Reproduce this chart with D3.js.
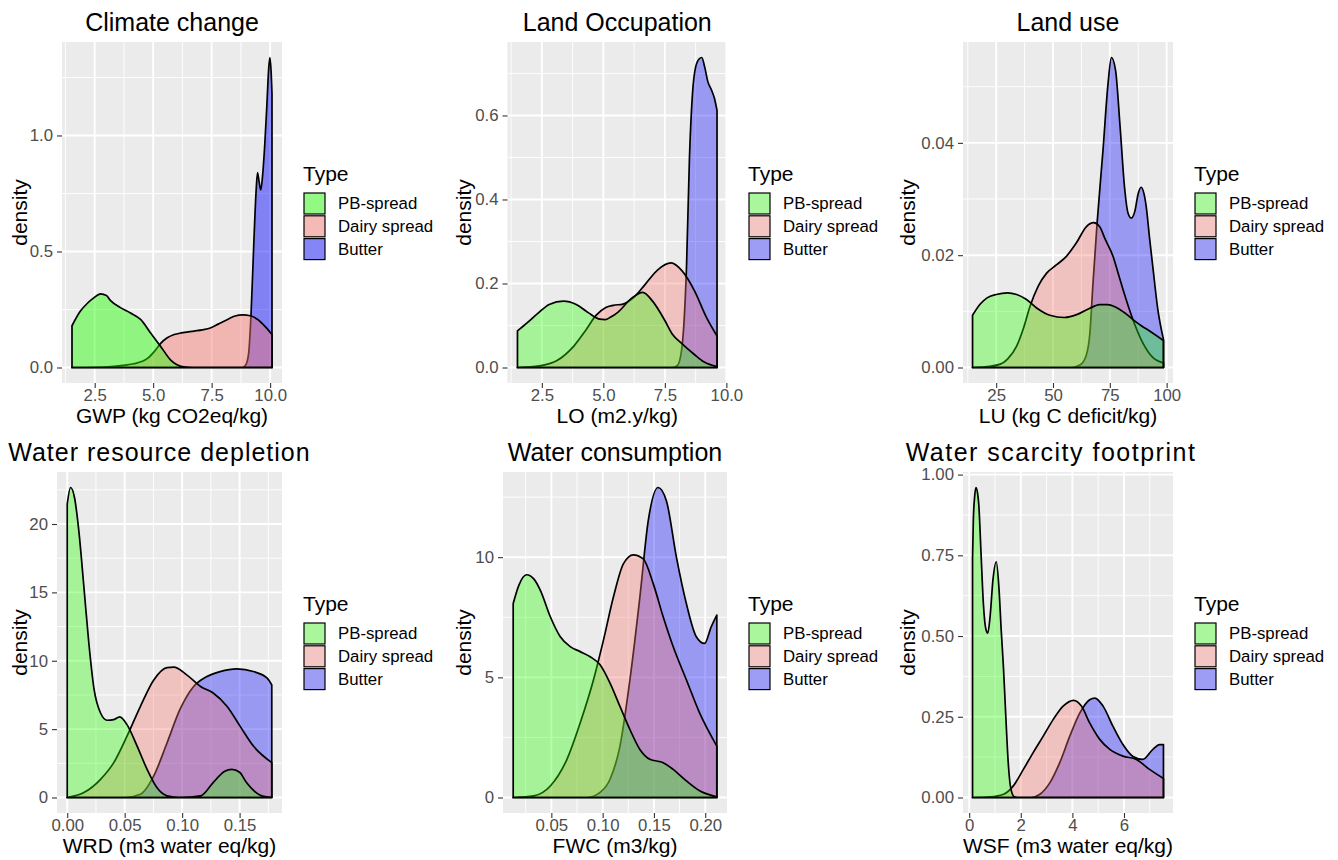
<!DOCTYPE html>
<html>
<head>
<meta charset="utf-8">
<script src="https://d3js.org/d3.v7.min.js"></script>
<style>
  body { margin: 0; background: #fff; }
  text { font-family: "Liberation Sans", Arial, Helvetica, sans-serif; }
</style>
</head>
<body>
<div id="chart"></div>
<script>
// legend order; areas are painted in reverse (Butter first, PB-spread on top)
const types = ['PB-spread', 'Dairy spread', 'Butter'];
const typeFills = ['#22FF00', '#F8766D', '#0000FF'];

// density curves, [x, density]
const gwpPB = [[1.53,0.18],[1.89,0.243],[2.2,0.278],[2.46,0.3],[2.75,0.317],[3.0,0.31],[3.18,0.288],[3.6,0.258],[4.03,0.235],[4.46,0.207],[4.89,0.149],[5.32,0.091],[5.75,0.032],[6.0,0.013],[6.3,0.003],[6.7,0],[10.08,0]];
const gwpDairy = [[1.53,0],[2.5,0.001],[3.2,0.004],[3.8,0.01],[4.17,0.016],[4.74,0.038],[5.1,0.075],[5.32,0.104],[5.6,0.128],[5.9,0.142],[6.2,0.149],[6.75,0.157],[7.1,0.162],[7.47,0.171],[7.8,0.188],[8.18,0.207],[8.5,0.222],[8.83,0.227],[9.15,0.223],[9.47,0.207],[9.8,0.175],[10.08,0.142]];
const gwpButter = [[1.53,0],[8.8,0],[8.95,0.01],[9.08,0.06],[9.18,0.22],[9.3,0.53],[9.4,0.76],[9.46,0.84],[9.53,0.8],[9.6,0.765],[9.68,0.83],[9.77,0.96],[9.86,1.13],[9.94,1.29],[9.99,1.336],[10.04,1.28],[10.08,1.18]];

const loPB = [[1.51,0.087],[1.9,0.106],[2.36,0.13],[2.8,0.15],[3.38,0.158],[3.9,0.15],[4.4,0.13],[4.86,0.115],[5.07,0.114],[5.3,0.12],[5.6,0.132],[6.15,0.165],[6.6,0.179],[7.0,0.158],[7.5,0.112],[7.8,0.08],[8.17,0.058],[8.7,0.031],[9.1,0.013],[9.62,0.002]];
const loDairy = [[1.51,0],[2.4,0.004],[3.1,0.016],[3.8,0.051],[4.3,0.09],[4.7,0.124],[5.1,0.143],[5.4,0.148],[5.8,0.151],[6.2,0.165],[6.7,0.198],[7.2,0.232],[7.75,0.249],[8.2,0.23],[8.7,0.183],[9.2,0.118],[9.62,0.075]];
const loButter = [[1.51,0],[7.8,0],[8.0,0.004],[8.15,0.03],[8.27,0.1],[8.38,0.24],[8.5,0.5],[8.62,0.65],[8.75,0.715],[8.9,0.735],[9.0,0.738],[9.12,0.715],[9.25,0.68],[9.4,0.66],[9.52,0.64],[9.62,0.612]];

const luPB = [[14.6,0.0093],[18,0.0113],[21,0.0124],[25,0.013],[30,0.0133],[34,0.013],[38,0.0122],[42.8,0.0106],[48.6,0.0093],[55,0.0089],[61,0.0095],[66,0.0105],[70.5,0.0112],[74,0.0112],[77.9,0.0107],[82,0.0096],[85.9,0.0083],[89,0.0074],[92.5,0.0065],[98.6,0.0048]];
const luDairy = [[14.6,0],[20,0.0001],[26.8,0.0006],[30,0.0015],[34,0.0038],[37,0.007],[39.9,0.0109],[43.5,0.0145],[47.2,0.0168],[51.6,0.0183],[55.9,0.0198],[60.3,0.0222],[64.7,0.0251],[67.9,0.0258],[70.5,0.0251],[73,0.0228],[76.4,0.0198],[78.5,0.017],[80.8,0.0139],[85.1,0.0086],[89.5,0.0044],[93.9,0.0018],[98.6,0.0008]];
const luButter = [[14.6,0],[58,0],[62,0.0005],[64.5,0.002],[66.2,0.006],[67.6,0.015],[69.4,0.0257],[72,0.0387],[74.2,0.0505],[75.7,0.0552],[77.5,0.053],[79.5,0.043],[81.5,0.032],[83,0.0275],[84.4,0.0266],[86,0.0278],[87.5,0.031],[88.8,0.0321],[90,0.031],[91,0.0287],[92.5,0.023],[93.9,0.018],[96.1,0.0104],[98.6,0.005]];

const wrdPB = [[0,21.45],[0.0029,22.67],[0.0064,21.9],[0.0101,19.5],[0.0145,15.4],[0.0188,11.3],[0.0232,8.0],[0.029,6.18],[0.0347,5.65],[0.0405,5.7],[0.0457,5.9],[0.052,5.33],[0.0608,3.76],[0.0695,2.06],[0.078,0.73],[0.0869,0.12],[0.098,0],[0.116,0.12],[0.127,1.09],[0.1367,1.9],[0.1433,2.06],[0.15,1.85],[0.156,1.09],[0.168,0.17],[0.178,0]];
const wrdDairy = [[0,0],[0.0145,0.36],[0.029,1.33],[0.0405,2.55],[0.052,4.48],[0.0637,6.67],[0.0753,8.6],[0.0869,9.5],[0.0926,9.53],[0.104,8.97],[0.116,8.12],[0.127,7.64],[0.139,6.67],[0.1505,5.2],[0.162,3.76],[0.178,2.55]];
const wrdButter = [[0,0],[0.05,0],[0.0637,0.24],[0.0753,1.58],[0.0869,4.0],[0.098,6.42],[0.11,8.12],[0.1216,8.85],[0.133,9.21],[0.1477,9.41],[0.162,9.21],[0.174,8.73],[0.178,8.24]];

const fwcPB = [[0.0128,8.07],[0.0183,8.83],[0.0258,9.27],[0.0329,9.1],[0.0393,8.62],[0.049,7.52],[0.0587,6.69],[0.0684,6.28],[0.0781,6.07],[0.0878,5.86],[0.0975,5.52],[0.1072,4.76],[0.1169,3.79],[0.1266,2.83],[0.1363,2.0],[0.146,1.59],[0.159,1.45],[0.1687,1.17],[0.1816,0.69],[0.1945,0.28],[0.2113,0.03]];
const fwcDairy = [[0.0128,0],[0.0329,0.07],[0.049,0.48],[0.0652,1.59],[0.0781,3.1],[0.0911,4.9],[0.1008,6.55],[0.1105,8.34],[0.1202,9.72],[0.1299,10.1],[0.1396,9.93],[0.1493,8.9],[0.159,7.52],[0.1687,6.28],[0.1816,4.9],[0.1945,3.52],[0.2113,2.14]];
const fwcButter = [[0.0128,0],[0.085,0],[0.0975,0.21],[0.1072,0.76],[0.1169,2.14],[0.1266,4.9],[0.1363,8.34],[0.1444,11.5],[0.1541,12.9],[0.1622,12.34],[0.1719,10.0],[0.1816,8.07],[0.1913,6.69],[0.1994,6.41],[0.2058,7.1],[0.2113,7.59]];

const wsfPB = [[0.13,0.74],[0.16,0.857],[0.21,0.93],[0.26,0.96],[0.32,0.945],[0.37,0.909],[0.46,0.755],[0.55,0.6],[0.65,0.52],[0.72,0.509],[0.81,0.56],[0.92,0.673],[1.05,0.73],[1.15,0.653],[1.24,0.52],[1.33,0.4],[1.42,0.25],[1.52,0.1],[1.62,0.025],[1.75,0.002],[1.9,0],[7.53,0]];
const wsfDairy = [[0.13,0],[0.81,0.002],[1.33,0.01],[1.71,0.036],[2.1,0.087],[2.48,0.139],[2.87,0.19],[3.26,0.242],[3.64,0.283],[4.05,0.301],[4.35,0.283],[4.67,0.231],[5.06,0.18],[5.45,0.149],[5.96,0.128],[6.48,0.118],[6.99,0.087],[7.53,0.059]];
const wsfButter = [[0.13,0],[2.4,0],[2.74,0.01],[3.13,0.046],[3.51,0.108],[3.9,0.19],[4.29,0.262],[4.67,0.303],[4.87,0.308],[5.19,0.283],[5.57,0.221],[5.96,0.164],[6.35,0.127],[6.73,0.118],[7.12,0.149],[7.38,0.164],[7.53,0.164]];

const titles = ['Climate change', 'Land Occupation', 'Land use', 'Water resource depletion', 'Water consumption', 'Water scarcity footprint'];
const xLabels = ['GWP (kg CO2eq/kg)', 'LO (m2.y/kg)', 'LU (kg C deficit/kg)', 'WRD (m3 water eq/kg)', 'FWC (m3/kg)', 'WSF (m3 water eq/kg)'];
const xTicks = [[2.5, 5, 7.5, 10], [2.5, 5, 7.5, 10], [25, 50, 75, 100], [0, 0.05, 0.1, 0.15], [0.05, 0.1, 0.15, 0.2], [0, 2, 4, 6]];
const xTickLabels = [['2.5', '5.0', '7.5', '10.0'], ['2.5', '5.0', '7.5', '10.0'], ['25', '50', '75', '100'], ['0.00', '0.05', '0.10', '0.15'], ['0.05', '0.10', '0.15', '0.20'], ['0', '2', '4', '6']];
const yTicks = [[0, 0.5, 1], [0, 0.2, 0.4, 0.6], [0, 0.02, 0.04], [0, 5, 10, 15, 20], [0, 5, 10], [0, 0.25, 0.5, 0.75, 1]];
const yTickLabels = [['0.0', '0.5', '1.0'], ['0.0', '0.2', '0.4', '0.6'], ['0.00', '0.02', '0.04'], ['0', '5', '10', '15', '20'], ['0', '5', '10'], ['0.00', '0.25', '0.50', '0.75', '1.00']];
const seriesByPanel = [
	[gwpPB, gwpDairy, gwpButter],
	[loPB, loDairy, loButter],
	[luPB, luDairy, luButter],
	[wrdPB, wrdDairy, wrdButter],
	[fwcPB, fwcDairy, fwcButter],
	[wsfPB, wsfDairy, wsfButter],
];

// panel boxes in page pixels
const layout = [
	{ col: 0, left: 62, right: 282, top: 42, bottom: 383, alpha: 0.45, titleDx: 0, titleSpacing: 0 },
	{ col: 444, left: 507.5, right: 727, top: 42, bottom: 383, alpha: 0.35, titleDx: 0, titleSpacing: 0 },
	{ col: 888, left: 963, right: 1173, top: 42, bottom: 383, alpha: 0.35, titleDx: 0, titleSpacing: 0 },
	{ col: 0, left: 57, right: 282, top: 472, bottom: 813, alpha: 0.35, titleDx: -10, titleSpacing: 1 },
	{ col: 444, left: 503, right: 727, top: 472, bottom: 813, alpha: 0.35, titleDx: 0, titleSpacing: 0 },
	{ col: 888, left: 963, right: 1173, top: 472, bottom: 813, alpha: 0.35, titleDx: -17, titleSpacing: 1.5 },
];

const width = 1338;
const height = 860;

const svg = d3.select('#chart').append('svg')
	.attr('width', width)
	.attr('height', height);

svg.append('rect')
	.attr('width', width)
	.attr('height', height)
	.attr('fill', '#fff');

function minorBreaks(ticks, domain) {
	const step = ticks[1] - ticks[0];
	const out = [ticks[0] - step / 2, ...ticks.map((t) => t + step / 2)];
	return out.filter((v) => v > domain[0] && v < domain[1]);
}

function drawPanel(i) {
	const L = layout[i];
	const series = seriesByPanel[i];
	const all = series.flat();
	const [xMin, xMax] = d3.extent(all, (d) => d[0]);
	const yMax = d3.max(all, (d) => d[1]);
	const xPad = (xMax - xMin) * 0.05;
	const yPad = yMax * 0.05;

	const xScale = d3.scaleLinear()
		.domain([xMin - xPad, xMax + xPad])
		.range([L.left, L.right]);
	const yScale = d3.scaleLinear()
		.domain([-yPad, yMax + yPad])
		.range([L.bottom, L.top]);

	const g = svg.append('g');

	g.append('rect')
		.attr('x', L.left)
		.attr('y', L.top)
		.attr('width', L.right - L.left)
		.attr('height', L.bottom - L.top)
		.attr('fill', '#EBEBEB');

	// minor grid
	g.selectAll('.xminor')
		.data(minorBreaks(xTicks[i], xScale.domain()))
		.enter().append('line')
		.attr('x1', (d) => xScale(d)).attr('x2', (d) => xScale(d))
		.attr('y1', L.top).attr('y2', L.bottom)
		.attr('stroke', '#fff').attr('stroke-width', 0.9);
	g.selectAll('.yminor')
		.data(minorBreaks(yTicks[i], yScale.domain()))
		.enter().append('line')
		.attr('y1', (d) => yScale(d)).attr('y2', (d) => yScale(d))
		.attr('x1', L.left).attr('x2', L.right)
		.attr('stroke', '#fff').attr('stroke-width', 0.9);

	// major grid
	g.selectAll('.xmajor')
		.data(xTicks[i])
		.enter().append('line')
		.attr('x1', (d) => xScale(d)).attr('x2', (d) => xScale(d))
		.attr('y1', L.top).attr('y2', L.bottom)
		.attr('stroke', '#fff').attr('stroke-width', 1.9);
	g.selectAll('.ymajor')
		.data(yTicks[i])
		.enter().append('line')
		.attr('y1', (d) => yScale(d)).attr('y2', (d) => yScale(d))
		.attr('x1', L.left).attr('x2', L.right)
		.attr('stroke', '#fff').attr('stroke-width', 1.9);

	const area = d3.area()
		.x((d) => xScale(d[0]))
		.y0(yScale(0))
		.y1((d) => yScale(d[1]))
		.curve(d3.curveMonotoneX);

	// Butter, Dairy spread, PB-spread
	[2, 1, 0].forEach((k) => {
		g.append('path')
			.datum(series[k])
			.attr('d', area)
			.attr('fill', typeFills[k])
			.attr('fill-opacity', L.alpha)
			.attr('stroke', '#000')
			.attr('stroke-width', 1.7)
			.attr('stroke-linejoin', 'round');
	});

	const xAxis = g.append('g')
		.attr('transform', `translate(0,${L.bottom})`)
		.call(d3.axisBottom(xScale)
			.tickValues(xTicks[i])
			.tickFormat((d, j) => xTickLabels[i][j])
			.tickSize(5)
			.tickPadding(1));
	const yAxis = g.append('g')
		.attr('transform', `translate(${L.left},0)`)
		.call(d3.axisLeft(yScale)
			.tickValues(yTicks[i])
			.tickFormat((d, j) => yTickLabels[i][j])
			.tickSize(5)
			.tickPadding(4));
	[xAxis, yAxis].forEach((ax) => {
		ax.select('.domain').remove();
		ax.selectAll('.tick line').attr('stroke', '#333').attr('stroke-width', 1.1);
		ax.selectAll('.tick text')
			.attr('fill', '#4D4D4D')
			.style('font-size', '16.8px')
			.style('font-family', '"Liberation Sans", Arial, sans-serif');
	});

	const cx = (L.left + L.right) / 2;
	const cy = (L.top + L.bottom) / 2;

	g.append('text')
		.attr('x', cx + L.titleDx)
		.attr('y', L.top - 11)
		.attr('text-anchor', 'middle')
		.style('font-size', '25px')
		.style('letter-spacing', `${L.titleSpacing}px`)
		.text(titles[i]);

	g.append('text')
		.attr('x', cx)
		.attr('y', L.bottom + 40)
		.attr('text-anchor', 'middle')
		.style('font-size', '21px')
		.text(xLabels[i]);

	g.append('text')
		.attr('transform', `translate(${L.col + 20},${cy}) rotate(-90)`)
		.attr('dy', '0.35em')
		.attr('text-anchor', 'middle')
		.style('font-size', '21px')
		.text('density');

	// legend
	const lx = L.right + 21;
	const legend = g.append('g');
	legend.append('text')
		.attr('x', lx)
		.attr('y', cy - 32)
		.style('font-size', '21px')
		.text('Type');
	types.forEach((t, k) => {
		const ky = cy - 19.5 + k * 22.8;
		legend.append('rect')
			.attr('x', lx + 1).attr('y', ky)
			.attr('width', 21).attr('height', 21)
			.attr('fill', '#F2F2F2');
		legend.append('rect')
			.attr('x', lx + 1).attr('y', ky)
			.attr('width', 21).attr('height', 21)
			.attr('fill', typeFills[k])
			.attr('fill-opacity', L.alpha)
			.attr('stroke', '#000')
			.attr('stroke-width', 1.2);
		legend.append('text')
			.attr('x', lx + 35)
			.attr('y', ky + 10.5)
			.attr('dy', '0.35em')
			.style('font-size', '16.8px')
			.text(t);
	});
}

d3.range(6).forEach(drawPanel);
</script>
</body>
</html>
